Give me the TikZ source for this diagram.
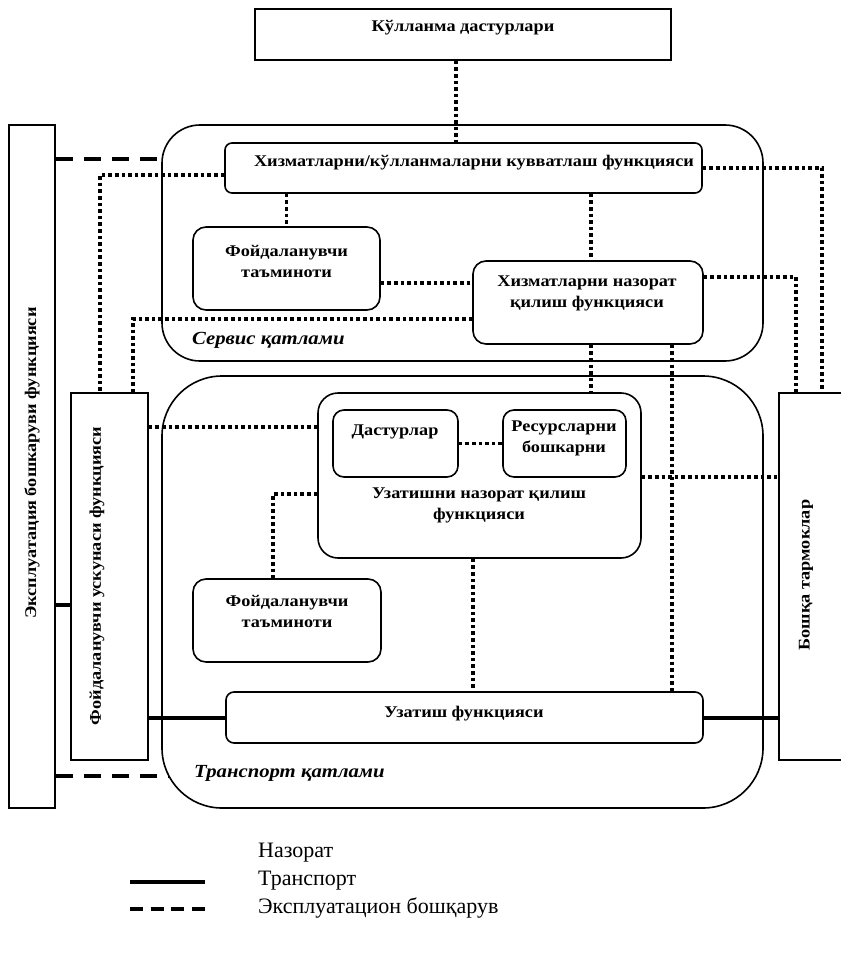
\documentclass[tikz,border=0pt]{standalone}
\usepackage{fontspec}
\setmainfont{Liberation Serif}
\newfontfamily\boxfont{Liberation Serif}[FakeStretch=1.12]
\begin{document}
\begin{tikzpicture}[x=1pt,y=-1pt,
  frame/.style={draw, line width=1.6pt, inner sep=0pt},
  rbox/.style={frame, rounded corners=#1},
  lbl/.style={font=\boxfont\bfseries\fontsize{16.3}{21}\selectfont, align=center, inner sep=0pt},
  vlbl/.style={lbl, rotate=90},
  ctrl/.style={line width=3.6pt, dash pattern=on 3.6pt off 3pt},
  trans/.style={line width=4pt},
  oamline/.style={line width=4pt, dash pattern=on 17pt off 11pt},
  layername/.style={font=\boxfont\bfseries\itshape\fontsize{18.5}{22}\selectfont, anchor=west, inner sep=0pt},
  legtext/.style={font=\fontsize{22}{26}\selectfont, anchor=west, inner sep=0pt}
]
\useasboundingbox (0,0) rectangle (840,955);

% layers
\node[rbox=38pt, minimum width=601pt, minimum height=236pt] (svc) at (462.5,243) {};
\node[rbox=60pt, minimum width=601pt, minimum height=432pt] (tr) at (462.5,592) {};

% side bars
\node[frame, minimum width=46pt, minimum height=683pt] (oam) at (32,466.5) {};
\node[frame, minimum width=77pt, minimum height=367pt] (ue) at (109.5,576.5) {};
\node[frame, minimum width=66pt, minimum height=367pt] (other) at (812,576.5) {};

% boxes
\node[frame, minimum width=416pt, minimum height=51pt] (apps) at (463,34.5) {};
\node[rbox=7pt, minimum width=477pt, minimum height=50pt] (sup) at (463.5,168) {};
\node[rbox=13pt, minimum width=187pt, minimum height=83pt] (svcup) at (286.5,268.5) {};
\node[rbox=13pt, minimum width=230pt, minimum height=83pt] (svcctrl) at (588,302.5) {};
\node[rbox=20pt, minimum width=323pt, minimum height=165pt] (trctrl) at (479.5,475.5) {};
\node[rbox=11pt, minimum width=125pt, minimum height=67pt] (progs) at (395.5,443.5) {};
\node[rbox=11pt, minimum width=123pt, minimum height=67pt] (res) at (564.5,443.5) {};
\node[rbox=13pt, minimum width=188pt, minimum height=83pt] (trup) at (287,620.5) {};
\node[rbox=8pt, minimum width=477pt, minimum height=51pt] (xfer) at (464.5,717.5) {};

% texts
\node[lbl] (apps-t) at (463,28) {Кўлланма дастурлари};
\node[lbl] (sup-t) at (474,163) {Хизматларни/кўлланмаларни кувватлаш функцияси};
\node[lbl] (svcup-t) at (286.5,261) {Фойдаланувчи\\таъминоти};
\node[lbl] (svcctrl-t) at (587,293) {Хизматларни назорат\\қилиш функцияси};
\node[lbl] (progs-t) at (395,432) {Дастурлар};
\node[lbl] (res-t) at (564,438.5) {Ресурсларни\\бошкарни};
\node[lbl] (trctrl-t) at (479,505) {Узатишни назорат қилиш\\функцияси};
\node[lbl] (trup-t) at (287,611) {Фойдаланувчи\\таъминоти};
\node[lbl] (xfer-t) at (464,714) {Узатиш функцияси};
\node[vlbl] (oam-t) at (32,463) {Эксплуатация бошкаруви функцияси};
\node[vlbl] (ue-t) at (97,576) {Фойдаланувчи ускунаси функцияси};
\node[vlbl] (other-t) at (806,575) {Бошқа тармоклар};
\node[layername] (svc-name) at (192,340) {Сервис қатлами};
\node[layername] (tr-name) at (194,773) {Транспорт қатлами};

% guide positions for the connectors
\coordinate (x100) at (100,0);
\coordinate (x133) at (133,0);
\coordinate (x273) at (273,0);
\coordinate (x456) at (456,0);
\coordinate (x473) at (473,0);
\coordinate (x591) at (591,0);
\coordinate (x672) at (672,0);
\coordinate (x796) at (796,0);
\coordinate (x822) at (822,0);
\coordinate (y159) at (0,159);
\coordinate (y175) at (0,175);
\coordinate (y277) at (0,277);
\coordinate (y283) at (0,283);
\coordinate (y319) at (0,319);
\coordinate (y427) at (0,427);
\coordinate (y477) at (0,477);
\coordinate (y494) at (0,494);
\coordinate (y605) at (0,605);
\coordinate (y776) at (0,776);
\coordinate (trcorner) at (169,776);

% control links
\draw[ctrl] (x456 |- apps.south) -- (x456 |- sup.north);
\draw[ctrl] (svcup.north |- sup.south) -- (svcup.north);
\draw[ctrl] (x591 |- sup.south) -- (x591 |- svcctrl.north);
\draw[ctrl] (sup.west |- y175) -| (x100 |- ue.north);
\draw[ctrl] (sup.east) -| (x822 |- other.north);
\draw[ctrl] (svcup.east |- y283) -- (svcctrl.west |- y283);
\draw[ctrl] (svcctrl.west |- y319) -| (x133 |- ue.north);
\draw[ctrl] (svcctrl.east |- y277) -| (x796 |- other.north);
\draw[ctrl] (x591 |- svcctrl.south) -- (x591 |- trctrl.north);
\draw[ctrl] (x672 |- svcctrl.south) -- (x672 |- xfer.north);
\draw[ctrl] (ue.east |- y427) -- (trctrl.west |- y427);
\draw[ctrl] (progs.east) -- (res.west);
\draw[ctrl] (trctrl.east |- y477) -- (other.west |- y477);
\draw[ctrl] (trctrl.west |- y494) -| (x273 |- trup.north);
\draw[ctrl] (x473 |- trctrl.south) -- (x473 |- xfer.north);

% transport links
\draw[trans] (ue.east |- xfer.west) -- (xfer.west);
\draw[trans] (xfer.east) -- (other.west |- xfer.east);
\draw[trans] (oam.east |- y605) -- (ue.west |- y605);

% operation and management links
\draw[oamline] (oam.east |- y159) -- (svc.west |- y159);
\draw[oamline] (oam.east |- y776) -- (trcorner);

% legend
\node[legtext] (leg1) at (258,853) {Назорат};
\node[legtext] (leg2) at (258,881) {Транспорт};
\node[legtext] (leg3) at (258,908) {Эксплуатацион бошқарув};
\coordinate (l2a) at (130,882);
\coordinate (l2b) at (205,882);
\coordinate (l3a) at (130,909);
\coordinate (l3b) at (205,909);
\draw[trans] (l2a) -- (l2b);
\draw[line width=4pt, dash pattern=on 13pt off 7.5pt] (l3a) -- (l3b);
\end{tikzpicture}
\end{document}
